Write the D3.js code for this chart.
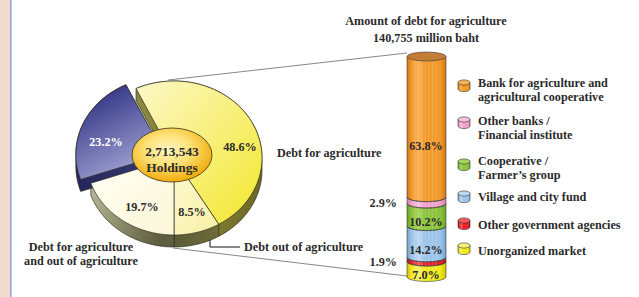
<!DOCTYPE html>
<html><head><meta charset="utf-8">
<script src="https://cdn.jsdelivr.net/npm/d3@7"></script>
<style>
html,body{margin:0;padding:0;background:#fff;}
svg{display:block;}
text{font-family:"Liberation Serif","Times New Roman",serif;font-weight:bold;fill:#2b2b2b;}
</style>
</head><body>
<svg id="c" width="639" height="297"></svg>
<script>
// ---------- data ----------
const pieCategories = ["Debt for agriculture", "Debt out of agriculture", "Debt for agriculture and out of agriculture", "Other"];
const pieValues = [48.6, 8.5, 19.7, 23.2];
const pieLabelText = ["48.6%", "8.5%", "19.7%", "23.2%"];
const centerLines = ["2,713,543", "Holdings"];
const barTitle = ["Amount of debt for agriculture", "140,755 million baht"];
const sourceCategories = ["Bank for agriculture and agricultural cooperative", "Other banks / Financial institute", "Cooperative / Farmer’s group", "Village and city fund", "Other government agencies", "Unorganized market"];
const sourceValues = [63.8, 2.9, 10.2, 14.2, 1.9, 7.0];
const sourceLabelText = ["63.8%", "2.9%", "10.2%", "14.2%", "1.9%", "7.0%"];
const legendLines = [["Bank for agriculture and", "agricultural cooperative"], ["Other banks /", "Financial institute"], ["Cooperative /", "Farmer’s group"], ["Village and city fund"], ["Other government agencies"], ["Unorganized market"]];

// ---------- styles / layout ----------
const FS = 12.2;
const sourceColors = ["#f39a2c", "#f1a3c9", "#8cc43e", "#9dc5e9", "#e8232b", "#f2ea1e"];
const sourceDark = ["#cf7716", "#d47fa8", "#6fa325", "#76a3cc", "#b8141b", "#cfc408"];
const sourceLight = ["#f9b254", "#f7c0dc", "#a5d45c", "#bcd9f2", "#f25a60", "#f8f270"];

const svg = d3.select("#c");
const defs = svg.append("defs");

// left decoration strip
svg.append("rect").attr("x", 0).attr("y", 0).attr("width", 10).attr("height", 297).attr("fill", "#f1dccb");
svg.append("rect").attr("x", 10).attr("y", 0).attr("width", 1.6).attr("height", 297).attr("fill", "#9aa1d8");

// ---------- gradients ----------
function linGrad(id, stops, attrs) {
  const g = defs.append("linearGradient").attr("id", id);
  Object.entries(attrs || {}).forEach(([k, v]) => g.attr(k, v));
  stops.forEach(s => g.append("stop").attr("offset", s[0]).attr("stop-color", s[1]));
}
linGrad("top0", [[0, "#fcf8c8"], [1, "#f3e72c"]], {x1: 0, y1: 0, x2: 1, y2: 1});
linGrad("top1", [[0, "#fdf9d2"], [1, "#f8f0a4"]], {x1: 0, y1: 0, x2: 1, y2: 1});
linGrad("top2", [[0, "#fffef6"], [1, "#fcf7d6"]], {x1: 0, y1: 0, x2: 1, y2: 1});
linGrad("top3", [[0, "#2e3082"], [1, "#b2b3de"]], {x1: 0.3, y1: 0, x2: 0.8, y2: 1});
linGrad("wall0", [[0, "#8c8a3c"], [0.6, "#807a30"], [1, "#6c6826"]], {x1: 0, y1: 0, x2: 1, y2: 0});
linGrad("wall1", [[0, "#5a5a38"], [1, "#6e6c38"]], {x1: 0, y1: 0, x2: 1, y2: 0});
linGrad("wall2", [[0, "#c2c2a4"], [0.5, "#8e8e6c"], [1, "#5e5e40"]], {x1: 0, y1: 0, x2: 1, y2: 0.3});
linGrad("wall3", [[0, "#24265a"], [1, "#3a3c78"]], {x1: 0, y1: 0, x2: 1, y2: 0});
const rg = defs.append("radialGradient").attr("id", "ctr").attr("cx", 0.45).attr("cy", 0.4).attr("r", 0.62);
[[0, "#fff6c0"], [0.45, "#fde27a"], [1, "#f0a800"]].forEach(s => rg.append("stop").attr("offset", s[0]).attr("stop-color", s[1]));
sourceColors.forEach((c, i) => {
  linGrad("bar" + i, [[0, sourceDark[i]], [0.12, c], [0.3, sourceLight[i]], [0.45, c], [0.85, c], [1, sourceDark[i]]], {x1: 0, y1: 0, x2: 1, y2: 0});
});

// ---------- pie ----------
const P = {cx: 174, cy: 158, rx: 88, ry: 77, depth: 12, explode: 11};
const k = P.ry / P.rx;
const total = d3.sum(pieValues);
const startA = Math.PI - 2 * Math.PI * (pieValues[0] + pieValues[1]) / total;
const pie = d3.pie().sort(null).startAngle(startA).endAngle(startA + 2 * Math.PI);
const arcs = pie(pieValues);
const explodeIdx = 3;

function pt(a, r, o) { return [P.cx + o[0] + r * Math.sin(a), P.cy + o[1] - r * k * Math.cos(a)]; }
const line = d3.line();
const slices = arcs.map((a, i) => {
  const mid = (a.startAngle + a.endAngle) / 2;
  const o = i === explodeIdx ? [P.explode * Math.sin(mid), -P.explode * k * Math.cos(mid)] : [0, 0];
  const n = 60;
  const top = [pt(0, 0, o)].concat(d3.range(n + 1).map(j => pt(a.startAngle + (a.endAngle - a.startAngle) * j / n, P.rx, o)));
  const hull = d3.polygonHull(top.concat(top.map(p => [p[0], p[1] + P.depth])));
  return {i, top, hull};
});

const gPie = svg.append("g");
gPie.selectAll("path.wall").data(slices).join("path")
  .attr("class", "wall")
  .attr("d", d => line(d.hull) + "Z")
  .attr("fill", d => `url(#wall${d.i})`)
  .attr("stroke", "#2e2e22").attr("stroke-width", 0.7).attr("stroke-linejoin", "round");
gPie.selectAll("path.top").data(slices).join("path")
  .attr("class", "top")
  .attr("d", d => line(d.top) + "Z")
  .attr("fill", d => `url(#top${d.i})`)
  .attr("stroke", "#2e2e22").attr("stroke-width", 0.7).attr("stroke-linejoin", "round");

// center ellipse
gPie.append("ellipse").attr("cx", P.cx - 2).attr("cy", P.cy - 3).attr("rx", 40).attr("ry", 27)
  .attr("fill", "url(#ctr)").attr("stroke", "#3a3020").attr("stroke-width", 0.8);
gPie.selectAll("text.ctr").data(centerLines).join("text").attr("class", "ctr")
  .attr("x", P.cx - 2).attr("y", (d, i) => 156 + i * 16).attr("text-anchor", "middle")
  .attr("font-size", 13.4).text(d => d);

// pie percentage labels
const pieLabelPos = [[240, 151], [192, 216], [142, 211], [106, 146]];
gPie.selectAll("text.pl").data(pieLabelText).join("text").attr("class", "pl")
  .attr("x", (d, i) => pieLabelPos[i][0]).attr("y", (d, i) => pieLabelPos[i][1])
  .attr("text-anchor", "middle").attr("font-size", FS)
  .style("fill", (d, i) => i === explodeIdx ? "#ffffff" : "#2b2b2b")
  .text(d => d);

// pie category labels
svg.append("text").attr("x", 277).attr("y", 157).attr("font-size", FS).text(pieCategories[0]);
svg.append("text").attr("x", 244).attr("y", 251).attr("font-size", FS).text(pieCategories[1]);
svg.append("text").attr("x", 81).attr("y", 251).attr("text-anchor", "middle").attr("font-size", FS)
  .selectAll("tspan").data(["Debt for agriculture", "and out of agriculture"]).join("tspan")
  .attr("x", 81).attr("dy", (d, i) => i ? 14 : 0).text(d => d);
svg.append("path").attr("d", "M210,240 V247 H240").attr("fill", "none").attr("stroke", "#111").attr("stroke-width", 1);

// ---------- stacked cylinder ----------
const B = {x0: 407, x1: 446, ry: 4.5};
const bRx = (B.x1 - B.x0) / 2;
const y = d3.scaleLinear().domain([0, 100]).range([277, 56.5]);
const order = d3.range(sourceValues.length).reverse();
let acc = 0;
const segs = order.map(i => { const s = {i, v0: acc, v1: acc + sourceValues[i]}; acc += sourceValues[i]; return s; });

// connector lines
svg.append("line").attr("x1", 168).attr("y1", 80).attr("x2", B.x0).attr("y2", y(100) - 3.5)
  .attr("stroke", "#6a6a6a").attr("stroke-width", 0.8);
svg.append("line").attr("x1", 173).attr("y1", P.cy + P.ry + P.depth + 1).attr("x2", B.x0).attr("y2", y(0) - 1)
  .attr("stroke", "#6a6a6a").attr("stroke-width", 0.8);

const gBar = svg.append("g");
gBar.selectAll("path.seg").data(segs).join("path").attr("class", "seg")
  .attr("d", d => `M${B.x0},${y(d.v1)} L${B.x0},${y(d.v0)} A${bRx},${B.ry} 0 0 0 ${B.x1},${y(d.v0)} L${B.x1},${y(d.v1)} Z`)
  .attr("fill", d => `url(#bar${d.i})`)
  .attr("stroke", "#3a3a3a").attr("stroke-width", 0.6);
gBar.selectAll("path.bd").data(segs.slice(1)).join("path").attr("class", "bd")
  .attr("d", d => `M${B.x0},${y(d.v0)} A${bRx},${B.ry} 0 0 0 ${B.x1},${y(d.v0)}`)
  .attr("fill", "none").attr("stroke", "#3a3a3a").attr("stroke-width", 0.6);
gBar.selectAll("line.st").data(d3.range(0.2, 0.75, 0.09)).join("line").attr("class", "st")
  .attr("x1", d => B.x0 + d * (B.x1 - B.x0)).attr("x2", d => B.x0 + d * (B.x1 - B.x0))
  .attr("y1", y(100)).attr("y2", y(0) + B.ry - 1)
  .attr("stroke", "#ffffff").attr("stroke-opacity", 0.28).attr("stroke-width", 0.6);
gBar.append("ellipse").attr("cx", (B.x0 + B.x1) / 2).attr("cy", y(100)).attr("rx", bRx).attr("ry", B.ry)
  .attr("fill", "#c47c36").attr("stroke", "#3a3a3a").attr("stroke-width", 0.6);

// bar labels
const barLabelPos = [[426, 150, "middle"], [397, 207, "end"], [426, 226, "middle"], [426, 254, "middle"], [397, 266, "end"], [426, 278.5, "middle"]];
gBar.selectAll("text.bl").data(sourceLabelText).join("text").attr("class", "bl")
  .attr("x", (d, i) => barLabelPos[i][0]).attr("y", (d, i) => barLabelPos[i][1])
  .attr("text-anchor", (d, i) => barLabelPos[i][2]).attr("font-size", FS).text(d => d);

// title
svg.selectAll("text.tt").data(barTitle).join("text").attr("class", "tt")
  .attr("x", 426).attr("y", (d, i) => 25 + i * 17).attr("text-anchor", "middle").attr("font-size", FS).text(d => d);

// ---------- legend ----------
const legendTextY = [87, 125, 165, 201, 229, 255];
const legendIconY = [86, 123, 165, 197, 224, 249];
const gLeg = svg.append("g");
legendLines.forEach((lines, i) => {
  const cy = legendIconY[i], x0 = 458, w = 12, ry = 2.6;
  gLeg.append("path")
    .attr("d", `M${x0},${cy - 3.5} L${x0},${cy + 3} A${w / 2},${ry} 0 0 0 ${x0 + w},${cy + 3} L${x0 + w},${cy - 3.5} Z`)
    .attr("fill", `url(#bar${i})`).attr("stroke", "#333").attr("stroke-width", 0.6);
  gLeg.append("ellipse").attr("cx", x0 + w / 2).attr("cy", cy - 3.5).attr("rx", w / 2).attr("ry", ry)
    .attr("fill", sourceLight[i]).attr("stroke", "#333").attr("stroke-width", 0.6);
  gLeg.append("text").attr("x", 478).attr("y", legendTextY[i]).attr("font-size", FS)
    .selectAll("tspan").data(lines).join("tspan").attr("x", 478).attr("dy", (d, j) => j ? 14 : 0).text(d => d);
});
</script>
</body></html>
